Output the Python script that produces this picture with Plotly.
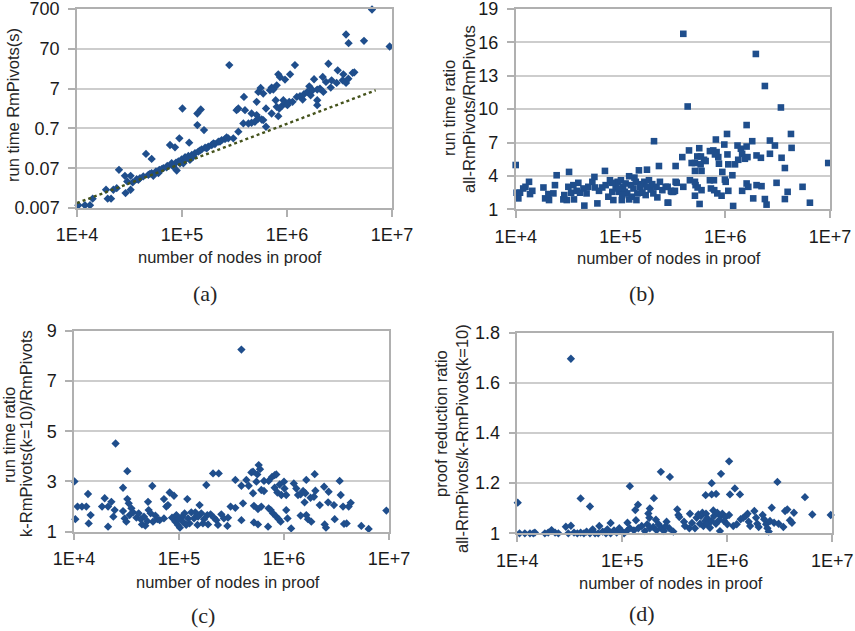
import plotly.graph_objects as go

# (a) run time of RmPivots against proof size
a_nodes = [
    1.03e4, 1.19e4, 1.33e4, 1.41e4, 1.89e4, 1.96e4, 2.11e4, 2.22e4, 2.39e4, 2.51e4,
    2.90e4, 2.86e4, 3.24e4, 3.24e4, 3.01e4, 3.39e4, 3.70e4, 3.98e4, 4.28e4, 4.78e4,
    5.14e4, 5.65e4, 6.08e4, 6.64e4, 7.24e4, 7.97e4, 8.77e4, 9.23e4, 9.93e4, 1.07e5,
    1.15e5, 1.24e5, 1.33e5, 1.43e5, 1.54e5, 1.66e5, 1.78e5, 1.92e5, 2.06e5, 2.22e5,
    2.39e5, 2.57e5, 2.76e5, 3.08e5, 5.33e4, 5.96e4, 8.90e4, 1.03e5, 1.19e5, 8.26e4,
    4.54e4, 5.14e4, 7.69e4, 8.58e4, 9.44e4, 1.17e5, 1.01e5, 1.40e5, 1.51e5, 1.40e5,
    1.62e5, 2.82e5, 1.48e5, 1.72e5, 1.99e5, 2.30e5, 2.66e5, 1.28e5, 1.11e5, 9.57e4,
    6.40e4, 7.14e4, 3.84e4, 4.95e4, 3.44e5, 3.31e5, 3.44e5, 3.89e5, 3.98e5, 3.84e5,
    4.29e5, 4.60e5, 4.95e5, 5.33e5, 5.74e5, 5.14e5, 4.60e5, 5.94e5, 5.14e5, 5.33e5,
    5.61e5, 5.94e5, 6.31e5, 6.31e5, 6.89e5, 7.14e5, 7.41e5, 7.98e5, 7.80e5, 7.14e5,
    8.26e5, 7.98e5, 8.45e5, 8.89e5, 9.23e5, 9.57e5, 1.01e6, 1.05e6, 1.13e6, 8.26e5,
    8.57e5, 9.57e5, 1.07e6, 1.19e6, 1.24e6, 1.33e6, 1.41e6, 1.45e6, 1.56e6, 1.63e6,
    1.68e6, 1.75e6, 1.81e6, 1.94e6, 1.94e6, 1.94e6, 2.06e6, 2.22e6, 2.19e6, 2.35e6,
    2.61e6, 2.66e6, 2.48e6, 2.97e6, 3.04e6, 3.44e6, 3.39e6, 3.65e6, 3.84e6, 4.22e6,
    4.38e6, 3.65e6, 3.86e6, 5.41e6, 6.45e6, 9.50e6,
]
a_time = [
    0.0082, 0.0082, 0.0082, 0.0120, 0.0201, 0.0120, 0.0120, 0.0201, 0.0221, 0.0636,
    0.0166, 0.045, 0.045, 0.0201, 0.0325, 0.0307, 0.0372, 0.0394, 0.0434, 0.0477,
    0.0525, 0.0578, 0.0636, 0.070, 0.080, 0.0933, 0.097, 0.103, 0.117, 0.132,
    0.142, 0.151, 0.166, 0.183, 0.209, 0.230, 0.244, 0.268, 0.284, 0.325,
    0.357, 0.378, 0.394, 0.394, 0.045, 0.0525, 0.0612, 0.0933, 0.113, 0.077,
    0.160, 0.120, 0.268, 0.234, 0.394, 0.307, 2.21, 1.66, 2.09, 0.848,
    0.635, 27.3, 0.194, 0.221, 0.295, 0.325, 0.417, 0.137, 0.124, 0.0933,
    0.066, 0.074, 0.0357, 0.0505, 0.578, 2.01, 2.21, 4.33, 2.01, 0.933,
    0.93, 0.97, 1.03, 1.24, 1.17, 1.51, 1.66, 1.13, 3.25, 5.78,
    7.28, 5.25, 0.771, 2.21, 6.35, 7.41, 6.6, 8.47, 3.57, 1.66,
    1.42, 2.44, 2.21, 2.53, 3.57, 2.95, 2.68, 3.25, 3.25, 16.0,
    13.7, 11.8, 16.0, 27.3, 4.33, 4.5, 3.71, 5.05, 5.78, 8.0,
    4.76, 6.35, 12.0, 3.57, 2.68, 6.6, 7.0, 5.78, 13.7, 10.3,
    7.41, 11.3, 29.5, 9.7, 20.1, 16.0, 11.3, 9.7, 12.4, 17.3,
    17.9, 160, 97, 111, 680, 80,
]
# power-law trend of the run time
trend_nodes = [1.0e4, 7.0e6]
trend_time = [0.0093, 6.36]

# (b) all-RmPivots / RmPivots run time ratio
b_nodes = [
    1.00e4, 1.02e4, 1.10e4, 1.06e4, 1.18e4, 1.24e4, 1.34e4, 1.37e4, 1.44e4, 1.84e4,
    1.91e4, 2.08e4, 2.05e4, 2.29e4, 2.37e4, 2.46e4, 2.91e4, 3.07e4, 3.18e4, 3.23e4,
    3.38e4, 3.60e4, 2.85e4, 3.55e4, 3.96e4, 3.82e4, 4.11e4, 4.43e4, 4.52e4, 4.75e4,
    4.93e4, 5.39e4, 5.64e4, 5.72e4, 6.02e4, 6.24e4, 6.71e4, 7.11e4, 7.22e4, 7.66e4,
    7.94e4, 8.36e4, 8.55e4, 9.00e4, 9.40e4, 9.68e4, 1.01e5, 1.03e5, 1.06e5, 1.12e5,
    1.16e5, 1.21e5, 1.21e5, 1.26e5, 1.33e5, 1.40e5, 1.42e5, 1.50e5, 1.54e5, 1.62e5,
    1.69e5, 1.74e5, 1.79e5, 1.87e5, 1.94e5, 2.09e5, 2.01e5, 2.21e5, 2.33e5, 2.38e5,
    2.51e5, 2.70e5, 2.86e5, 3.03e5, 3.19e5, 3.36e5, 3.36e5, 9.55e4, 1.10e5, 1.28e5,
    1.45e5, 1.59e5, 1.78e5, 2.06e5, 2.25e5, 1.04e5, 8.36e4, 1.36e5,
    2.82e5, 2.82e5, 3.08e5, 3.31e5, 3.44e5, 3.89e5, 3.98e5, 3.98e5, 4.38e5, 4.51e5,
    4.60e5, 5.14e5, 5.21e5, 5.45e5, 4.78e5, 5.14e5, 5.41e5, 5.65e5, 5.86e5, 6.27e5,
    6.50e5, 5.82e5, 5.14e5, 5.94e5, 5.14e5, 5.69e5, 5.94e5, 7.14e5, 7.69e5, 8.27e5,
    8.58e5, 7.98e5, 8.14e5, 7.14e5, 7.30e5, 7.85e5, 8.40e5, 7.80e5, 9.23e5, 8.71e5,
    9.38e5, 9.80e5, 1.01e6, 1.05e6, 1.07e6, 9.93e5, 1.04e6, 1.07e6, 1.17e6, 1.19e6,
    1.24e6, 1.33e6, 1.31e6, 1.41e6, 1.45e6, 1.60e6, 1.54e6, 1.45e6, 1.60e6, 1.60e6,
    1.66e6, 1.63e6, 1.81e6, 1.85e6, 1.96e6, 1.99e6, 1.99e6, 2.19e6, 2.22e6, 2.39e6,
    2.39e6, 2.48e6, 2.67e6, 2.67e6, 2.98e6, 3.09e6, 3.40e6, 3.45e6, 3.71e6, 3.71e6,
    3.94e6, 4.24e6, 4.30e6, 5.47e6, 6.43e6, 9.62e6,
]
b_ratio = [
    4.98, 2.49, 2.49, 1.98, 2.87, 3.02, 3.47, 2.37, 2.66, 2.96,
    1.98, 1.83, 2.37, 2.43, 3.17, 4.06, 2.28, 1.83, 3.02, 4.36,
    2.49, 1.89, 1.89, 3.17, 3.38, 2.66, 2.49, 2.87, 1.33, 2.43,
    3.02, 3.47, 3.91, 2.96, 1.53, 2.66, 2.96, 4.45, 3.17, 2.13,
    3.61, 2.57, 1.83, 3.02, 3.47, 2.57, 3.61, 1.83, 3.02, 3.32,
    2.43, 3.97, 1.89, 3.17, 2.87, 3.47, 1.83, 4.50, 3.02, 2.49,
    3.47, 2.28, 4.56, 3.61, 2.78, 7.12, 3.26, 3.02, 4.89, 3.47,
    2.72, 3.02, 1.59, 2.66, 2.57, 4.89, 3.47, 2.87, 2.57, 2.13,
    2.43, 3.26, 3.02, 2.43, 2.07, 2.28, 3.38, 3.85,
    3.02, 1.59, 2.57, 2.66, 3.38, 5.69, 16.77, 3.02, 10.24, 6.29,
    3.61, 3.47, 3.17, 2.96, 5.16, 5.16, 5.75, 6.49, 5.75, 5.45,
    5.34, 5.04, 4.45, 4.45, 2.22, 1.48, 2.72, 6.23, 6.29, 6.14,
    5.69, 5.93, 7.27, 3.61, 2.87, 2.72, 2.43, 3.61, 2.22, 5.10,
    4.36, 6.82, 3.47, 5.93, 5.04, 3.67, 7.77, 2.66, 4.06, 1.30,
    5.04, 5.45, 6.73, 6.44, 5.99, 6.64, 5.54, 2.66, 8.57, 3.32,
    3.02, 5.69, 7.12, 1.98, 14.96, 5.84, 3.17, 5.63, 3.08, 12.08,
    1.92, 1.42, 7.18, 5.99, 6.73, 3.38, 10.15, 5.63, 4.71, 1.92,
    2.57, 7.77, 6.52, 3.02, 1.59, 5.16,
]

# (c) k-RmPivots(k=10) / RmPivots run time ratio
c_nodes = [
    1.01e4, 1.03e4, 1.08e4, 1.19e4, 1.31e4, 1.36e4, 1.38e4, 1.44e4, 1.85e4, 1.96e4,
    2.11e4, 2.27e4, 2.44e4, 2.11e4, 2.37e4, 2.49e4, 2.93e4, 2.93e4, 3.04e4, 3.22e4,
    3.22e4, 3.32e4, 3.15e4, 3.39e4, 3.52e4, 3.65e4, 3.93e4, 4.13e4, 4.32e4, 4.44e4,
    4.64e4, 4.78e4, 4.99e4, 5.14e4, 5.07e4, 5.37e4, 5.57e4, 5.65e4, 5.96e4, 6.22e4,
    6.55e4, 7.19e4, 7.57e4, 8.15e4, 8.96e4, 7.85e4, 7.19e4, 8.58e4, 9.23e4, 9.77e4,
    1.02e5, 1.07e5, 1.13e5, 1.20e5, 1.22e5, 1.31e5, 1.39e5, 1.50e5, 1.57e5, 1.63e5,
    1.73e5, 1.82e5, 1.89e5, 2.00e5, 2.15e5, 2.11e5, 2.39e5, 2.35e5, 2.53e5, 2.68e5,
    2.89e5, 9.44e4, 1.09e5, 1.26e5, 1.52e5, 1.69e5, 1.86e5, 2.27e5, 9.93e4, 1.17e5,
    1.43e5,
    3.93e5, 3.44e5, 3.93e5, 4.38e5, 4.61e5, 4.89e5, 5.07e5, 5.07e5, 5.46e5, 5.57e5,
    5.74e5, 5.91e5, 6.08e5, 6.45e5, 6.45e5, 7.14e5, 7.69e5, 8.15e5, 8.45e5, 8.15e5,
    8.65e5, 9.10e5, 9.44e5, 1.00e6, 1.01e6, 1.05e6, 5.17e5, 5.65e5, 6.08e5, 7.14e5,
    7.47e5, 7.85e5, 8.45e5, 8.90e5, 9.29e5, 5.17e5, 5.65e5, 7.05e5, 3.10e5, 2.93e5,
    3.44e5, 4.07e5, 3.93e5, 1.05e6, 1.08e6, 1.17e6, 1.24e6, 1.31e6, 1.36e6, 1.44e6,
    1.52e6, 1.60e6, 1.63e6, 1.79e6, 1.93e6, 1.99e6, 1.96e6, 1.57e6, 1.44e6, 1.63e6,
    1.69e6, 1.82e6, 2.19e6, 2.41e6, 2.44e6, 2.51e6, 2.63e6, 2.66e6, 2.99e6, 3.04e6,
    3.39e6, 3.47e6, 3.65e6, 3.73e6, 3.95e6, 4.13e6, 4.32e6, 5.45e6, 6.40e6, 9.44e6,
]
c_ratio = [
    3.00, 1.50, 2.00, 2.00, 2.00, 2.50, 1.33, 1.66, 2.00, 2.33,
    2.00, 2.19, 1.86, 1.20, 1.60, 4.51, 2.75, 1.82, 1.53, 3.41,
    2.30, 2.13, 1.40, 1.66, 1.93, 1.77, 1.56, 1.73, 1.50, 1.29,
    1.60, 1.24, 1.42, 1.86, 2.19, 1.73, 2.82, 1.40, 1.64, 1.50,
    1.46, 2.30, 2.00, 2.56, 2.43, 2.06, 1.53, 1.56, 1.40, 1.27,
    1.16, 1.60, 1.73, 2.30, 1.53, 1.77, 1.53, 1.27, 2.06, 1.73,
    1.50, 2.86, 1.29, 1.69, 1.56, 3.32, 3.32, 1.27, 1.69, 1.53,
    1.23, 1.66, 1.40, 1.33, 1.60, 1.33, 1.66, 1.46, 1.50, 1.27,
    1.77,
    8.25, 3.06, 2.83, 3.06, 2.83, 3.36, 3.39, 2.53, 2.99, 3.28,
    3.65, 3.49, 2.66, 2.62, 3.02, 3.02, 3.18, 3.25, 3.28, 2.75,
    2.56, 2.88, 2.46, 2.99, 2.72, 2.46, 2.03, 1.90, 2.00, 1.93,
    1.86, 1.73, 1.60, 1.50, 1.40, 1.37, 1.29, 1.20, 2.00, 1.56,
    1.95, 2.13, 1.46, 1.86, 1.53, 1.13, 2.92, 2.72, 2.46, 2.49,
    2.62, 2.53, 3.06, 2.35, 2.39, 2.63, 3.29, 2.17, 1.64, 1.66,
    1.50, 1.40, 2.06, 2.79, 1.29, 1.16, 2.17, 2.59, 2.06, 1.50,
    3.02, 2.46, 2.00, 1.31, 1.33, 2.00, 2.15, 1.23, 1.11, 1.84,
]

# (d) all-RmPivots / k-RmPivots(k=10) proof reduction ratio
d_nodes = [
    1.01e4, 1.05e4, 1.18e4, 1.32e4, 1.42e4, 1.47e4, 1.83e4, 1.97e4, 2.12e4, 2.29e4,
    2.46e4, 2.90e4, 3.24e4, 3.24e4, 3.06e4, 3.47e4, 3.73e4, 4.01e4, 4.31e4, 4.57e4,
    4.92e4, 5.22e4, 5.50e4, 5.90e4, 6.04e4, 6.50e4, 6.99e4, 7.20e4, 7.74e4, 7.74e4,
    8.34e4, 8.84e4, 9.36e4, 9.86e4, 1.04e5, 4.01e4, 4.92e4, 1.10e5, 1.18e5, 1.12e5,
    1.29e5, 1.35e5, 1.42e5, 1.53e5, 1.64e5, 1.73e5, 1.83e5, 1.97e5, 2.12e5, 2.22e5,
    2.37e5, 2.49e5, 2.64e5, 2.80e5, 1.18e5, 1.33e5, 1.41e5, 1.77e5, 1.83e5, 1.81e5,
    2.00e5, 2.09e5, 2.33e5, 2.84e5, 2.60e5,
    3.06e5, 3.34e5, 3.42e5, 3.49e5, 3.95e5, 3.87e5, 4.35e5, 4.41e5, 4.61e5, 4.92e5,
    5.10e5, 5.30e5, 5.49e5, 5.62e5, 5.79e5, 5.92e5, 6.14e5, 6.27e5, 6.45e5, 6.45e5,
    6.84e5, 7.05e5, 7.36e5, 7.47e5, 7.80e5, 8.03e5, 8.34e5, 8.51e5, 8.65e5, 8.97e5,
    9.30e5, 9.64e5, 1.00e6, 1.04e6, 6.22e5, 7.10e5, 7.82e5, 7.10e5, 8.71e5, 1.04e6,
    1.06e6, 1.18e6, 1.32e6, 1.14e6, 1.23e6, 1.34e6, 1.42e6, 1.50e6, 1.56e6, 1.60e6,
    1.65e6, 1.81e6, 1.88e6, 1.93e6, 1.99e6, 2.17e6, 2.24e6, 2.34e6, 2.41e6, 2.48e6,
    2.55e6, 2.65e6, 2.79e6, 3.00e6, 3.08e6, 3.42e6, 3.55e6, 3.73e6, 3.95e6, 4.13e6,
    4.31e6, 5.49e6, 6.45e6, 9.66e6,
]
d_ratio = [
    1.122, 1.0, 1.0, 1.0, 1.0, 1.003, 1.0, 1.003, 1.013, 1.003,
    1.0, 1.026, 1.03, 1.696, 1.0, 1.003, 1.0, 1.003, 1.0, 1.007,
    1.0, 1.016, 1.0, 1.0, 1.029, 1.007, 1.0, 1.016, 1.041, 1.0,
    1.012, 1.003, 1.02, 1.009, 1.0, 1.139, 1.107, 1.009, 1.02, 1.042,
    1.012, 1.052, 1.02, 1.029, 1.009, 1.036, 1.02, 1.025, 1.012, 1.036,
    1.02, 1.009, 1.046, 1.02, 1.188, 1.093, 1.114, 1.079, 1.099, 1.062,
    1.14, 1.054, 1.245, 1.225, 1.029,
    1.007, 1.095, 1.073, 1.065, 1.029, 1.046, 1.02, 1.078, 1.041, 1.02,
    1.062, 1.075, 1.038, 1.069, 1.082, 1.029, 1.049, 1.078, 1.06, 1.036,
    1.022, 1.049, 1.091, 1.069, 1.038, 1.082, 1.052, 1.009, 1.069, 1.078,
    1.049, 1.065, 1.036, 1.073, 1.152, 1.155, 1.157, 1.2, 1.237, 1.287,
    1.155, 1.179, 1.155, 1.029, 1.036, 1.056, 1.062, 1.069, 1.078, 1.046,
    1.029, 1.089, 1.062, 1.038, 1.025, 1.073, 1.056, 1.036, 1.02, 1.007,
    1.049, 1.102, 1.042, 1.205, 1.038, 1.025, 1.089, 1.095, 1.052, 1.042,
    1.082, 1.144, 1.075, 1.073,
]

x_ticks = [1e4, 1e5, 1e6, 1e7]
x_tick_text = ["1E+4", "1E+5", "1E+6", "1E+7"]
a_ticks = [0.007, 0.07, 0.7, 7, 70, 700]
a_tick_text = ["0.007", "0.07", "0.7", "7", "70", "700"]
b_ticks = [1, 4, 7, 10, 13, 16, 19]
c_ticks = [1, 3, 5, 7, 9]
d_ticks = [1, 1.2, 1.4, 1.6, 1.8]
d_tick_text = ["1", "1.2", "1.4", "1.6", "1.8"]

W, H = 855, 631
BLUE = "#1f4e8c"
GRID = "#cdcdcd"
LINE = "#b0b0b0"
SANS = "Liberation Sans, Arial, sans-serif"
SERIF = "Liberation Serif, DejaVu Serif, serif"


def px(x):
    return x / W


def py(y):
    return 1 - y / H


fig = go.Figure()

diamond = dict(symbol="diamond", size=6.4, color=BLUE, line=dict(width=0))
square = dict(symbol="square", size=6.6, color=BLUE, line=dict(width=0))

fig.add_trace(go.Scatter(x=a_nodes, y=a_time, mode="markers", marker=diamond,
                         xaxis="x", yaxis="y", cliponaxis=False))
fig.add_trace(go.Scatter(x=trend_nodes, y=trend_time, mode="lines",
                         line=dict(color="#45531c", width=2.4, dash="dot"),
                         xaxis="x", yaxis="y"))
fig.add_trace(go.Scatter(x=b_nodes, y=b_ratio, mode="markers", marker=square,
                         xaxis="x2", yaxis="y2", cliponaxis=False))
fig.add_trace(go.Scatter(x=c_nodes, y=c_ratio, mode="markers", marker=diamond,
                         xaxis="x3", yaxis="y3", cliponaxis=False))
fig.add_trace(go.Scatter(x=d_nodes, y=d_ratio, mode="markers", marker=diamond,
                         xaxis="x4", yaxis="y4", cliponaxis=False))

common = dict(showline=True, linecolor=LINE, linewidth=1.5, mirror=True,
              ticks="outside", ticklen=7, tickcolor=LINE, tickwidth=1.5,
              tickfont=dict(family=SANS, size=18, color="#1a1a1a"),
              ticklabeloverflow="allow",
              zeroline=False, fixedrange=True, automargin=False)


def xaxis(x0, x1, anchor):
    return dict(common, type="log", range=[4, 7], domain=[px(x0), px(x1)],
                anchor=anchor, showgrid=False, tickvals=x_ticks,
                ticktext=x_tick_text, ticklabelstandoff=3)


def yaxis(y_top, y_bot, anchor, **kw):
    return dict(common, domain=[py(y_bot), py(y_top)], anchor=anchor,
                showgrid=True, gridcolor=GRID, gridwidth=1.6,
                ticklabelstandoff=5, **kw)


fig.update_layout(
    width=W, height=H,
    margin=dict(l=0, r=0, t=0, b=0, pad=0, autoexpand=False),
    paper_bgcolor="white", plot_bgcolor="white", showlegend=False,
    xaxis=xaxis(77, 392, "y"),
    yaxis=yaxis(9, 208, "x", type="log",
                range=[-2.1549, 2.8451], tickvals=a_ticks, ticktext=a_tick_text),
    xaxis2=xaxis(515.7, 830, "y2"),
    yaxis2=yaxis(9, 209.3, "x2", range=[1, 19], tickvals=b_ticks),
    xaxis3=xaxis(74, 389, "y3"),
    yaxis3=yaxis(330.7, 531.7, "x3", range=[1, 9], tickvals=c_ticks),
    xaxis4=xaxis(517.3, 832.3, "y4"),
    yaxis4=yaxis(332.7, 533.3, "x4", range=[1, 1.8], tickvals=d_ticks,
                 ticktext=d_tick_text),
)

notes = [
    # x-axis titles
    ("number of nodes in proof", 230, 257, 0, SANS, 16.5),
    ("number of nodes in proof", 669, 258, 0, SANS, 16.5),
    ("number of nodes in proof", 228, 582, 0, SANS, 16.5),
    ("number of nodes in proof", 671, 583, 0, SANS, 16.5),
    # y-axis titles
    ("run time RmPivots(s)", 13, 105, -90, SANS, 16.5),
    ("run time ratio", 449, 108, -90, SANS, 16.5),
    ("all-RmPivots/RmPivots", 469, 109, -90, SANS, 16.5),
    ("run time ratio", 9, 435, -90, SANS, 16.5),
    ("k-RmPivots(k=10)/RmPivots", 26, 434, -90, SANS, 16.5),
    ("proof reduction ratio", 441, 424, -90, SANS, 16.5),
    ("all-RmPivots/k-RmPivots(k=10)", 462, 439, -90, SANS, 16.5),
    # panel captions
    ("(a)", 205, 293, 0, SERIF, 22),
    ("(b)", 642, 293, 0, SERIF, 22),
    ("(c)", 203, 615, 0, SERIF, 22),
    ("(d)", 642, 613, 0, SERIF, 22),
]
fig.update_layout(annotations=[
    dict(text=t, x=px(x), y=py(y), xref="paper", yref="paper",
         xanchor="center", yanchor="middle", showarrow=False, textangle=ang,
         font=dict(family=fam, size=sz, color="#262626"))
    for t, x, y, ang, fam, sz in notes
])

fig.write_html("out.html")
